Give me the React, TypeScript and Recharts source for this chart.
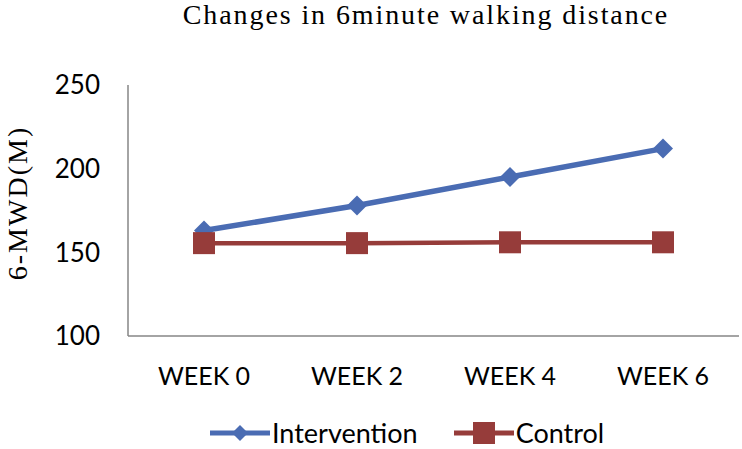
import React from 'react';
import { LineChart, Line, XAxis, YAxis, Legend } from 'recharts';

const weeks = ['WEEK 0', 'WEEK 2', 'WEEK 4', 'WEEK 6'];
const intervention = [163, 178, 195, 212];
const control = [155.5, 155.5, 156, 156];
const yTicks = [100, 150, 200, 250];

const BLUE = '#4A6CB3';
const RED = '#963C3A';

const data = weeks.map((w, i) => ({ week: w, intervention: intervention[i], control: control[i] }));

const Diamond = ({ cx, cy, size = 10 }: { cx: number; cy: number; size?: number }) => (
  <path d={`M${cx},${cy - size} L${cx + size},${cy} L${cx},${cy + size} L${cx - size},${cy} Z`} fill={BLUE} />
);

const Square = ({ cx, cy, half = 11 }: { cx: number; cy: number; half?: number }) => (
  <rect x={cx - half} y={cy - half} width={half * 2} height={half * 2} fill={RED} />
);

const renderLegend = () => (
  <div
    style={{
      height: 40,
      boxSizing: 'border-box',
      display: 'flex',
      alignItems: 'center',
      paddingLeft: 208,
      paddingTop: 8,
      lineHeight: 1.15,
      fontFamily: 'Lato, sans-serif',
      fontSize: 27,
      color: '#000',
    }}
  >
    <svg width={64} height={26}>
      <line x1={2} y1={13} x2={62} y2={13} stroke={BLUE} strokeWidth={5} />
      <Diamond cx={32} cy={13} size={8} />
    </svg>
    <span style={{ marginRight: 34 }}>Intervention</span>
    <svg width={64} height={26}>
      <line x1={2} y1={13} x2={62} y2={13} stroke={RED} strokeWidth={5} />
      <Square cx={32} cy={13} half={11} />
    </svg>
    <span>Control</span>
  </div>
);

const yLabel = () => (
  <text
    x={17}
    y={203}
    transform="rotate(-90 17 203)"
    textAnchor="middle"
    dominantBaseline="central"
    fill="#000"
    fontSize={28}
    letterSpacing={2}
    fontFamily='"Liberation Serif", serif'
  >
    6-MWD(M)
  </text>
);

export default function App() {
  return (
    <div style={{ position: 'absolute', left: 0, top: 0, width: 742, height: 449, background: '#fff' }}>
      <div
        style={{
          position: 'absolute',
          top: -1,
          left: 0,
          width: 742,
          paddingLeft: 110,
          boxSizing: 'border-box',
          textAlign: 'center',
          fontFamily: '"Liberation Serif", serif',
          fontSize: 28,
          letterSpacing: 1.9,
          zIndex: 1,
        }}
      >
        Changes in 6minute walking distance
      </div>
      <LineChart width={742} height={449} data={data} margin={{ top: 85, right: 3, bottom: 0, left: 0 }}>
        <XAxis
          dataKey="week"
          height={73}
          padding={{ left: 76, right: 76 }}
          tickLine={false}
          tickSize={31}
          tickMargin={0}
          axisLine={{ stroke: '#868686', strokeWidth: 1.5 }}
          tick={{ fill: '#000', fontSize: 25, fontFamily: 'Lato, sans-serif' }}
        />
        <YAxis
          width={128}
          domain={[100, 250]}
          ticks={yTicks}
          tickLine={false}
          tickSize={28}
          tickMargin={0}
          axisLine={{ stroke: '#868686', strokeWidth: 1.5 }}
          tick={{ fill: '#000', fontSize: 26, fontFamily: 'Lato, sans-serif' }}
          label={yLabel}
        />
        <Legend verticalAlign="bottom" content={renderLegend} />
        <Line
          type="linear"
          dataKey="intervention"
          name="Intervention"
          stroke={BLUE}
          strokeWidth={5.5}
          isAnimationActive={false}
          dot={(p: any) => <Diamond key={`d-${p.index}`} cx={p.cx} cy={p.cy} size={10} />}
          activeDot={false}
        />
        <Line
          type="linear"
          dataKey="control"
          name="Control"
          stroke={RED}
          strokeWidth={4.5}
          isAnimationActive={false}
          dot={(p: any) => <Square key={`s-${p.index}`} cx={p.cx} cy={p.cy} half={11} />}
          activeDot={false}
        />
      </LineChart>
    </div>
  );
}
